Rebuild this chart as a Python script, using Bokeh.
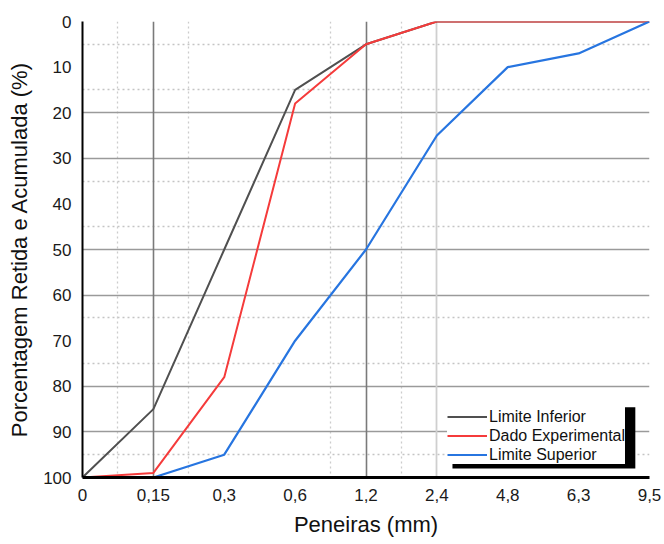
from bokeh.plotting import figure
from bokeh.models import (Range1d, FixedTicker, Grid, Legend, LegendItem, BoxAnnotation)
from bokeh.embed import file_html
from bokeh.resources import INLINE

# ---- data ----
sieves = ["0", "0,15", "0,3", "0,6", "1,2", "2,4", "4,8", "6,3", "9,5"]
limite_inferior = [100, 85, 50, 15, 5, 0, 0, 0, 0]
dado_experimental = [100, 99, 78, 18, 5, 0, 0, 0, 0]
limite_superior = [100, 100, 95, 70, 50, 25, 10, 7, 0]
y_ticks = [0, 10, 20, 30, 40, 50, 60, 70, 80, 90, 100]

xs = list(range(len(sieves)))
FONT = "Liberation Sans"

p = figure(width=662, height=542, output_backend="svg", toolbar_location=None,
           x_range=Range1d(0, len(sieves) - 1), y_range=Range1d(100, 0),
           min_border_left=82, min_border_right=13, min_border_top=21, min_border_bottom=65)
p.outline_line_color = None
p.background_fill_color = "white"

# grids
p.xgrid.visible = False
p.ygrid.visible = False
p.add_layout(Grid(dimension=1, ticker=FixedTicker(ticks=[5, 15, 35, 45, 65, 75, 95]),
                  grid_line_color="#c4c4c4", grid_line_width=1.3, grid_line_dash="2 3"))
p.add_layout(Grid(dimension=0, ticker=FixedTicker(ticks=[0.5, 1.5, 3.5, 4.5]),
                  grid_line_color="#cccccc", grid_line_width=1.3, grid_line_dash="2 3"))
p.add_layout(Grid(dimension=1, ticker=FixedTicker(ticks=[20, 30, 50, 60, 80, 90]),
                  grid_line_color="#9a9a9a", grid_line_width=1.6))
p.add_layout(Grid(dimension=0, ticker=FixedTicker(ticks=[5]),
                  grid_line_color="#cfcfcf", grid_line_width=1.8))
p.add_layout(Grid(dimension=0, ticker=FixedTicker(ticks=[1, 4]),
                  grid_line_color="#7a7a7a", grid_line_width=1.6))

# lines
r_inf = p.line(xs, limite_inferior, line_color="#505050", line_width=2)
r_exp = p.line(xs, dado_experimental, line_color="#f53b3b", line_width=2)
r_sup = p.line(xs, limite_superior, line_color="#2775e0", line_width=2.2)

# axes
p.xaxis.ticker = FixedTicker(ticks=xs)
p.xaxis.major_label_overrides = {i: s for i, s in enumerate(sieves)}
p.yaxis.ticker = FixedTicker(ticks=y_ticks)
for ax in (p.xaxis[0], p.yaxis[0]):
    ax.axis_line_color = "black"
    ax.major_tick_line_color = None
    ax.minor_tick_line_color = None
    ax.major_tick_out = 0
    ax.major_tick_in = 0
    ax.major_label_text_font = FONT
    ax.major_label_text_font_size = "17px"
    ax.major_label_text_color = "#1a1a1a"
    ax.axis_label_text_font = FONT
    ax.axis_label_text_font_style = "normal"
    ax.axis_label_text_color = "#111111"
p.yaxis.axis_line_width = 2
p.xaxis.axis_line_width = 3
p.yaxis.major_label_standoff = 11
p.xaxis.major_label_standoff = 11
p.yaxis.axis_label = "Porcentagem Retida e Acumulada (%)"
p.xaxis.axis_label = "Peneiras (mm)"
p.yaxis.axis_label_text_font_size = "22px"
p.xaxis.axis_label_text_font_size = "22px"
p.yaxis.axis_label_standoff = 8
p.xaxis.axis_label_standoff = 8

# legend shadow
shadow = BoxAnnotation(left=5.22, right=7.8, top=84.6, bottom=98.0,
                       fill_color="black", fill_alpha=1.0, line_color=None)
p.add_layout(shadow)

legend = Legend(items=[LegendItem(label="Limite Inferior", renderers=[r_inf]),
                       LegendItem(label="Dado Experimental", renderers=[r_exp]),
                       LegendItem(label="Limite Superior", renderers=[r_sup])],
                location=(365, 13), orientation="vertical",
                padding=3, spacing=0, margin=0,
                glyph_width=40, glyph_height=19, label_height=19, label_standoff=2,
                label_text_font=FONT, label_text_font_size="16px", label_text_color="#111111",
                background_fill_color="white", background_fill_alpha=1.0,
                border_line_color=None)
p.add_layout(legend, "center")

open("out.html", "w").write(file_html(p, INLINE))
